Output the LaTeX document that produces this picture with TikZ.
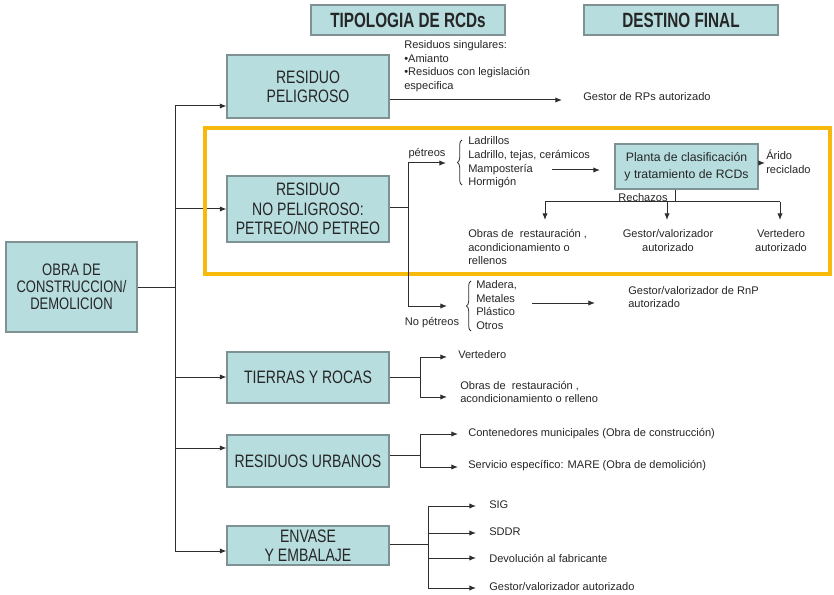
\documentclass[tikz,border=0pt]{standalone}
\usepackage{fontspec}
\setmainfont{Liberation Sans}
\newfontfamily\boxfont[FakeStretch=0.78]{Liberation Sans}
\newfontfamily\titfont[FakeStretch=0.74]{Liberation Sans Bold}
\usetikzlibrary{arrows.meta,decorations.pathreplacing}
\definecolor{boxfill}{HTML}{B7DDDF}
\definecolor{boxline}{HTML}{7F9293}
\definecolor{txt}{HTML}{262626}
\definecolor{ln}{HTML}{2E2E2E}
\definecolor{yel}{HTML}{F6B90C}
\tikzset{
  rbox/.style={draw=boxline, line width=0.8pt, fill=boxfill, align=center, text=txt,
    inner sep=0pt, font=\fontsize{13.5}{14.5}\selectfont\boxfont},
  tbox/.style={rbox, font=\fontsize{15.5}{18}\selectfont\titfont},
  sm/.style={font=\fontsize{8.3}{10.3}\selectfont, text=txt, inner sep=0pt, align=left},
  con/.style={draw=ln, line width=0.75pt},
  arr/.style={con, -{Latex[length=5pt,width=4pt]}},
  brc/.style={draw=ln, line width=0.6pt, decorate, decoration={brace, amplitude=3.5pt}}
}
\begin{document}
\begin{tikzpicture}[x=0.75pt,y=-0.75pt]
\useasboundingbox (0,0) rectangle (834,595);

% title boxes
\node[tbox, minimum width=145.5pt, minimum height=22.5pt] (tipo) at (408,20) {TIPOLOGIA DE RCDs};
\node[tbox, minimum width=145.5pt, minimum height=22.5pt] (dest) at (681,20) {DESTINO FINAL};

% main boxes
\node[rbox, minimum width=98.25pt, minimum height=67.5pt, font=\fontsize{12.5}{12.8}\selectfont\boxfont] (obra) at (71.5,287) {OBRA DE\\CONSTRUCCION/\\DEMOLICION};
\node[rbox, minimum width=121.5pt, minimum height=47.25pt] (peli) at (308,86.5) {RESIDUO\\PELIGROSO};
\node[rbox, minimum width=121.5pt, minimum height=49.5pt] (nop) at (308,209) {RESIDUO\\NO PELIGROSO:\\PETREO/NO PETREO};
\node[rbox, minimum width=121.5pt, minimum height=38.25pt] (tierras) at (308,377.5) {TIERRAS Y ROCAS};
\node[rbox, minimum width=121.5pt, minimum height=39pt] (urb) at (308,461) {RESIDUOS URBANOS};
\node[rbox, minimum width=121.5pt, minimum height=29.25pt] (env) at (308,545.5) {ENVASE\\Y EMBALAJE};

% trunk
\coordinate (tA) at (175,106);
\coordinate (tB) at (175,209);
\coordinate (tO) at (175,287);
\coordinate (tC) at (175,377);
\coordinate (tD) at (175,448);
\coordinate (tE) at (175,551);
\draw[con] (tA) -- (tE);
\draw[con] (obra.east |- tO) -- (tO);
\draw[arr] (tA) -- (peli.west |- tA);
\draw[arr] (tB) -- (nop.west |- tB);
\draw[arr] (tC) -- (tierras.west |- tC);
\draw[arr] (tD) -- (urb.west |- tD);
\draw[arr] (tE) -- (env.west |- tE);

% yellow frame
\draw[yel, line width=2.4pt] (205,128) rectangle (830,274);

% residuo peligroso
\node[sm, anchor=north west] (sing) at (404,40) {Residuos singulares:\\•Amianto\\•Residuos con legislación\\especifica};
\coordinate (gRP) at (562,100);
\draw[arr] (peli.east |- gRP) -- (gRP);
\node[sm, anchor=west] (gestRP) at (583,97) {Gestor de RPs autorizado};

% no peligroso
\coordinate (vTop) at (408,163);
\coordinate (vMid) at (408,208);
\coordinate (vBot) at (408,306);
\draw[con] (nop.east |- vMid) -- (vMid);
\draw[con] (vTop) -- (vBot);
\coordinate (pA) at (446,163);
\draw[arr] (vTop) -- (pA);
\node[sm] (petl) at (427,154) {pétreos};
\draw[brc] (462,185) -- (462,140);
\node[sm, anchor=west] (petlist) at (468,162.5) {Ladrillos\\Ladrillo, tejas, cerámicos\\Mampostería\\Hormigón};
\coordinate (pl1) at (552,170);
\coordinate (pl2) at (600,170);
\draw[arr] (pl1) -- (pl2);
\node[rbox, minimum width=107.25pt, minimum height=33.75pt, font=\fontsize{9.2}{12.5}\selectfont] (planta) at (686.5,166.5) {Planta de clasificación\\y tratamiento de RCDs};
\coordinate (ar) at (765,163);
\draw[arr] (planta.east |- ar) -- (ar);
\node[sm, anchor=west] (arido) at (766,162) {Árido\\reciclado};

\coordinate (rj) at (675,202);
\coordinate (r1) at (545,202);
\coordinate (r2) at (667,202);
\coordinate (r3) at (780,202);
\draw[con] (planta.south -| rj) -- (rj);
\draw[con] (r1) -- (r3);
\node[sm, anchor=south] (rech) at (643,202) {Rechazos};
\coordinate (d1) at (545,220);
\coordinate (d2) at (667,220);
\coordinate (d3) at (780,220);
\draw[arr] (r1) -- (d1);
\draw[arr] (r2) -- (d2);
\draw[arr] (r3) -- (d3);
\node[sm, anchor=north west] (obras1) at (468,229) {Obras de \ restauración ,\\acondicionamiento o\\rellenos};
\node[sm, anchor=north, align=center] (gv1) at (668,229) {Gestor/valorizador\\autorizado};
\node[sm, anchor=north, align=center] (vt1) at (781,229) {Vertedero\\autorizado};

% no petreos
\coordinate (npA) at (447,306);
\draw[arr] (vBot) -- (npA);
\node[sm] (npl) at (432,323) {No pétreos};
\draw[brc] (471,331) -- (471,281);
\node[sm, anchor=west] (nplist) at (476,305) {Madera,\\Metales\\Plástico\\Otros};
\coordinate (np1) at (532,303);
\coordinate (np2) at (595,303);
\draw[arr] (np1) -- (np2);
\node[sm, anchor=west] (gvRnP) at (628,297) {Gestor/valorizador de RnP\\autorizado};

% tierras y rocas
\coordinate (tr0) at (420,377);
\coordinate (tr1) at (420,357);
\coordinate (tr2) at (420,397);
\draw[con] (tierras.east |- tr0) -- (tr0);
\draw[con] (tr1) -- (tr2);
\draw[arr] (tr1) -- ++(27,0) coordinate (tr1e);
\draw[arr] (tr2) -- ++(27,0) coordinate (tr2e);
\node[sm, anchor=west] (vert2) at (458,355) {Vertedero};
\node[sm, anchor=west] (obras2) at (460,392) {Obras de \ restauración ,\\acondicionamiento o relleno};

% residuos urbanos
\coordinate (u0) at (420,455);
\coordinate (u1) at (420,434);
\coordinate (u2) at (420,467);
\draw[con] (urb.east |- u0) -- (u0);
\draw[con] (u1) -- (u2);
\draw[arr] (u1) -- ++(38,0) coordinate (u1e);
\draw[arr] (u2) -- ++(38,0) coordinate (u2e);
\node[sm, anchor=west] (cont) at (468,434) {Contenedores municipales (Obra de construcción)};
\node[sm, anchor=west] (serv) at (468,466) {Servicio específico: MARE (Obra de demolición)};

% envase
\coordinate (e0) at (428,544);
\coordinate (e1) at (428,506);
\coordinate (e2) at (428,533);
\coordinate (e3) at (428,558);
\coordinate (e4) at (428,588);
\draw[con] (env.east |- e0) -- (e0);
\draw[con] (e1) -- (e4);
\draw[arr] (e1) -- ++(48,0) coordinate (e1e);
\draw[arr] (e2) -- ++(48,0) coordinate (e2e);
\draw[arr] (e3) -- ++(48,0) coordinate (e3e);
\draw[arr] (e4) -- ++(48,0) coordinate (e4e);
\node[sm, anchor=west] (sig) at (489,505) {SIG};
\node[sm, anchor=west] (sddr) at (489,532) {SDDR};
\node[sm, anchor=west] (dev) at (489,558) {Devolución al fabricante};
\node[sm, anchor=west] (gv3) at (489,587) {Gestor/valorizador autorizado};
\end{tikzpicture}
\end{document}
